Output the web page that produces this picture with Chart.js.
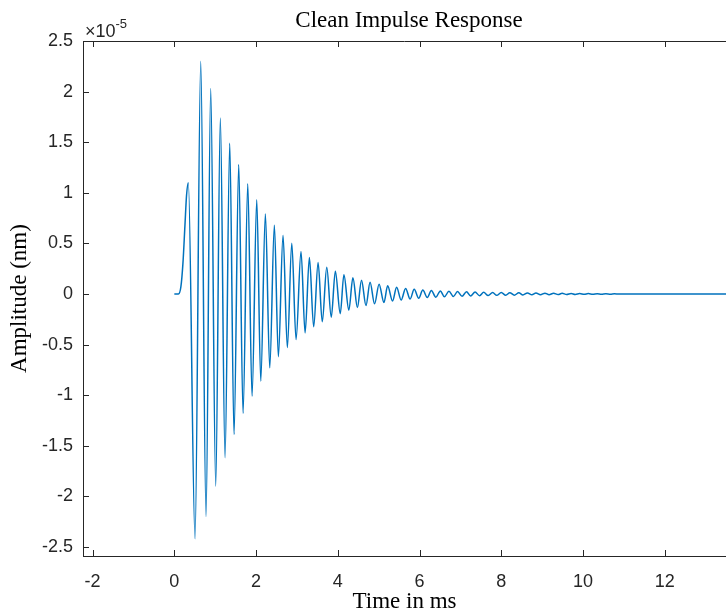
<!DOCTYPE html>
<html>
<head>
<meta charset="utf-8">
<title>Clean Impulse Response</title>
<script src="https://cdn.jsdelivr.net/npm/chart.js@4.4.1/dist/chart.umd.min.js"></script>
<style>
  html, body { margin: 0; padding: 0; background: #fff; }
  canvas { display: block; }
</style>
</head>
<body>
<canvas id="irChart" width="726" height="613"></canvas>
<script>
// Impulse response: time (ms) and amplitude in units of 1e-5 nm.
// Onset hump, then the peaks / troughs of the ringing, then the flat tail.
const timeMs = [
  0, 0.10, 0.16, 0.21, 0.26, 0.30,
  0.343, 0.507, 0.646, 0.776, 0.890, 1.013, 1.126, 1.241, 1.356, 1.461,
  1.576, 1.682, 1.797, 1.902, 2.017, 2.115, 2.228, 2.335, 2.448, 2.546,
  2.660, 2.766, 2.874, 2.979, 3.100, 3.200, 3.305, 3.410, 3.518, 3.620,
  3.730, 3.840, 3.940, 4.060, 4.150, 4.270, 4.370, 4.480, 4.580, 4.690,
  4.790, 4.900, 5.010, 5.130, 5.220, 5.340, 5.440, 5.550, 5.660, 5.770,
  5.870, 5.980, 6.080, 6.190, 6.290, 6.400, 6.510, 6.610, 6.720, 6.830,
  6.930, 7.040, 7.150, 7.250, 7.360, 7.470, 7.570, 7.680, 7.790, 7.890,
  8.000, 8.110, 8.210, 8.320, 8.430, 8.530, 8.640, 8.750, 8.850, 8.960,
  9.070, 9.170, 9.280, 9.390, 9.490, 9.600, 9.710, 9.810, 9.920, 10.030,
  10.130, 10.240, 10.350, 10.450, 10.560, 10.670, 10.770, 10.880, 11.000, 13.600
];
const amplitude = [
  0, 0, 0.07, 0.30, 0.68, 0.98,
  1.10, -2.42, 2.30, -2.20, 2.03, -1.90, 1.74, -1.62, 1.49, -1.39,
  1.28, -1.18, 1.09, -1.01, 0.93, -0.86, 0.79, -0.73, 0.68, -0.62,
  0.58, -0.53, 0.50, -0.45, 0.42, -0.385, 0.36, -0.325, 0.31, -0.275,
  0.265, -0.23, 0.225, -0.195, 0.19, -0.16, 0.16, -0.135, 0.135, -0.115,
  0.115, -0.098, 0.097, -0.084, 0.081, -0.07, 0.066, -0.06, 0.055, -0.05,
  0.047, -0.042, 0.038, -0.036, 0.034, -0.032, 0.030, -0.028, 0.027, -0.025,
  0.024, -0.022, 0.021, -0.020, 0.019, -0.018, 0.017, -0.016, 0.015, -0.014,
  0.014, -0.013, 0.012, -0.012, 0.011, -0.010, 0.010, -0.009, 0.009, -0.008,
  0.008, -0.007, 0.007, -0.006, 0.006, -0.005, 0.005, -0.005, 0.004, -0.004,
  0.004, -0.003, 0.003, -0.003, 0.002, -0.002, 0.002, -0.001, 0, 0
];

// axis limits and ticks
const xLimits = [-2.235, 13.5];
const yLimits = [-2.59, 2.5];
const xStep = 2;
const yStep = 0.5;
const yExponent = '-5';

const TICK_LEN = 6;
const AXIS_COLOR = '#262626';
const SANS = '"Liberation Sans", Arial, sans-serif';
const SERIF = '"Liberation Serif", "Times New Roman", serif';

// MATLAB style box: top edge, inward ticks, title and the x10^-5 multiplier
const matlabFrame = {
  id: 'matlabFrame',
  afterDraw(chart) {
    const { ctx, chartArea: a, scales: { x, y } } = chart;
    ctx.save();
    ctx.strokeStyle = AXIS_COLOR;
    ctx.lineWidth = 1;
    ctx.beginPath();
    ctx.moveTo(a.left, a.top + 0.5);
    ctx.lineTo(a.right, a.top + 0.5);
    x.ticks.forEach(t => {
      const px = Math.round(x.getPixelForValue(t.value)) + 0.5;
      ctx.moveTo(px, a.bottom);
      ctx.lineTo(px, a.bottom - TICK_LEN);
      ctx.moveTo(px, a.top);
      ctx.lineTo(px, a.top + TICK_LEN);
    });
    y.ticks.forEach(t => {
      const py = Math.round(y.getPixelForValue(t.value)) + 0.5;
      ctx.moveTo(a.left, py);
      ctx.lineTo(a.left + TICK_LEN, py);
    });
    ctx.stroke();

    ctx.fillStyle = '#000';
    ctx.font = '23px ' + SERIF;
    ctx.textAlign = 'center';
    ctx.textBaseline = 'alphabetic';
    ctx.fillText('Clean Impulse Response', 409, 27);

    ctx.fillStyle = AXIS_COLOR;
    ctx.textAlign = 'left';
    ctx.font = '18px ' + SANS;
    ctx.fillText('\u00d710', a.left + 2, 37);
    const w = ctx.measureText('\u00d710').width;
    ctx.font = '13px ' + SANS;
    ctx.fillText(yExponent, a.left + 2 + w, 28);
    ctx.restore();
  }
};

const ctx = document.getElementById('irChart').getContext('2d');
const irChart = new Chart(ctx, {
  type: 'line',
  data: {
    datasets: [{
      data: timeMs.map((t, i) => ({ x: t, y: amplitude[i] })),
      borderColor: '#0072BD',
      borderWidth: 1.5,
      pointRadius: 0,
      fill: false,
      cubicInterpolationMode: 'monotone'
    }]
  },
  options: {
    responsive: false,
    animation: false,
    devicePixelRatio: 1,
    layout: { padding: { top: 41, left: 0, right: 0, bottom: 0 } },
    plugins: {
      legend: { display: false },
      tooltip: { enabled: false },
      title: { display: false }
    },
    scales: {
      x: {
        type: 'linear',
        min: xLimits[0],
        max: xLimits[1],
        grid: { display: false, drawTicks: false },
        border: { display: true, color: AXIS_COLOR, width: 1 },
        ticks: {
          stepSize: xStep,
          includeBounds: false,
          padding: 15,
          color: AXIS_COLOR,
          font: { family: SANS, size: 18 },
          maxRotation: 0,
          autoSkip: false
        },
        title: {
          display: true,
          text: 'Time in ms',
          color: '#000',
          font: { family: SERIF, size: 23 },
          padding: { top: 0, bottom: -3 }
        },
        afterFit(scale) {
          scale.height = 57;
          scale.paddingLeft = 0;
          scale.paddingRight = 0;
        }
      },
      y: {
        type: 'linear',
        min: yLimits[0],
        max: yLimits[1],
        grid: { display: false, drawTicks: false },
        border: { display: true, color: AXIS_COLOR, width: 1 },
        ticks: {
          stepSize: yStep,
          includeBounds: false,
          padding: 10,
          color: AXIS_COLOR,
          font: { family: SANS, size: 18 },
          autoSkip: false,
          callback: v => String(v)
        },
        title: {
          display: true,
          text: 'Amplitude (nm)',
          color: '#000',
          font: { family: SERIF, size: 23 },
          padding: { top: 6, bottom: 0 }
        },
        afterFit(scale) {
          scale.width = 83;
        }
      }
    }
  },
  plugins: [matlabFrame]
});
</script>
</body>
</html>
